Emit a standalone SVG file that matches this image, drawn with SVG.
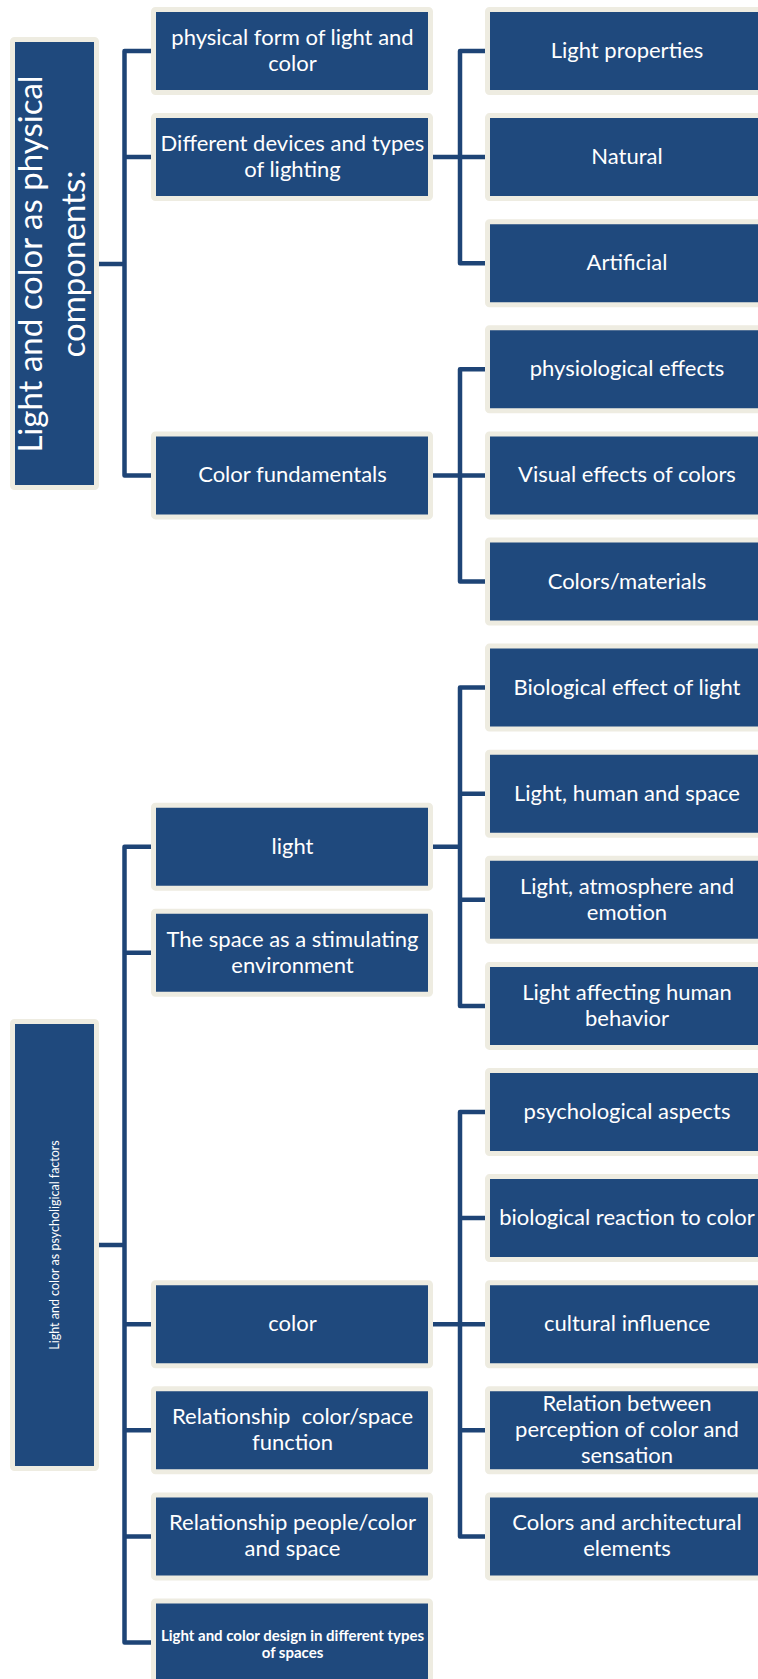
<svg xmlns="http://www.w3.org/2000/svg" width="758" height="1679" viewBox="0 0 758 1679">
<style>
.b{fill:#1F497D;stroke:#EEECE1;stroke-width:5;}
.t{font-family:Lato,"Liberation Sans",sans-serif;font-size:22px;fill:#FFFFFF;text-anchor:middle;}
.c{fill:none;stroke:#1E4476;stroke-width:4.5;stroke-linejoin:round;}
</style>
<rect width="758" height="1679" fill="#FFFFFF"/>
<g id="connectors">
<path class="c" d="M151 51 H124.5 V475.4 H151 M124.5 157.1 H151 M99 264 H124.5"/>
<path class="c" d="M433 157.1 H460 M485 51 H460 V263.2 H485 M460 157.1 H485"/>
<path class="c" d="M433 475.4 H460 M485 369.3 H460 V581.5 H485 M460 475.4 H485"/>
<path class="c" d="M151 846.65 H124.5 V1642.5 H151 M124.5 952.75 H151 M124.5 1324.2 H151 M124.5 1430.3 H151 M124.5 1536.4 H151 M99 1245 H124.5"/>
<path class="c" d="M433 846.65 H460 M485 687.6 H460 V1005.9 H485 M460 793.7 H485 M460 899.8 H485"/>
<path class="c" d="M433 1324.2 H460 M485 1112 H460 V1536.4 H485 M460 1218.1 H485 M460 1324.2 H485 M460 1430.3 H485"/>
</g>
<g id="root1"><rect class="b" x="12.5" y="39.5" width="84" height="448" rx="2"/>
<text class="t" style="font-size:33px" transform="translate(42,264) rotate(-90)">Light and color as physical</text>
<text class="t" style="font-size:33px" transform="translate(85,264) rotate(-90)">components:</text></g>
<g id="root2"><rect class="b" x="12.5" y="1021.5" width="84" height="447" rx="2"/>
<text class="t" style="font-size:12.5px" transform="translate(58.5,1245) rotate(-90)">Light and color as psycholigical factors</text></g>
<g id="m0"><rect class="b" x="153.5" y="9.5" width="277" height="83" rx="2"/><text class="t" x="292.5" y="45">physical form of light and</text><text class="t" x="292.5" y="71">color</text></g>
<g id="m1"><rect class="b" x="153.5" y="115.6" width="277" height="83" rx="2"/><text class="t" x="292.5" y="151">Different devices and types</text><text class="t" x="292.5" y="177">of lighting</text></g>
<g id="m4"><rect class="b" x="153.5" y="433.9" width="277" height="83" rx="2"/><text class="t" x="292.5" y="482.4">Color fundamentals</text></g>
<g id="m_light"><rect class="b" x="153.5" y="805.15" width="277" height="83" rx="2"/><text class="t" x="292.5" y="853.65">light</text></g>
<g id="m_space"><rect class="b" x="153.5" y="911.25" width="277" height="83" rx="2"/><text class="t" x="292.5" y="946.75">The space as a stimulating</text><text class="t" x="292.5" y="972.75">environment</text></g>
<g id="m_color"><rect class="b" x="153.5" y="1282.7" width="277" height="83" rx="2"/><text class="t" x="292.5" y="1331.2">color</text></g>
<g id="m_rel1"><rect class="b" x="153.5" y="1388.8" width="277" height="83" rx="2"/><text class="t" x="292.5" y="1424.3" xml:space="preserve">Relationship  color/space</text><text class="t" x="292.5" y="1450.3">function</text></g>
<g id="m_rel2"><rect class="b" x="153.5" y="1494.9" width="277" height="83" rx="2"/><text class="t" x="292.5" y="1530.4">Relationship people/color</text><text class="t" x="292.5" y="1556.4">and space</text></g>
<g id="m_design"><rect class="b" x="153.5" y="1601" width="277" height="83" rx="2"/><text class="t" style="font-size:15px;font-weight:bold" x="292.5" y="1640.5">Light and color design in different types</text><text class="t" style="font-size:15px;font-weight:bold" x="292.5" y="1657.5">of spaces</text></g>
<g id="r0"><rect class="b" x="487.5" y="9.5" width="290" height="83" rx="2"/><text class="t" x="627" y="58">Light properties</text></g>
<g id="r1"><rect class="b" x="487.5" y="115.6" width="290" height="83" rx="2"/><text class="t" x="627" y="164.1">Natural</text></g>
<g id="r2"><rect class="b" x="487.5" y="221.7" width="290" height="83" rx="2"/><text class="t" x="627" y="270.2">Artificial</text></g>
<g id="r3"><rect class="b" x="487.5" y="327.8" width="290" height="83" rx="2"/><text class="t" x="627" y="376.3">physiological effects</text></g>
<g id="r4"><rect class="b" x="487.5" y="433.9" width="290" height="83" rx="2"/><text class="t" x="627" y="482.4">Visual effects of colors</text></g>
<g id="r5"><rect class="b" x="487.5" y="540" width="290" height="83" rx="2"/><text class="t" x="627" y="588.5">Colors/materials</text></g>
<g id="r6"><rect class="b" x="487.5" y="646.1" width="290" height="83" rx="2"/><text class="t" x="627" y="694.6">Biological effect of light</text></g>
<g id="r7"><rect class="b" x="487.5" y="752.2" width="290" height="83" rx="2"/><text class="t" x="627" y="800.7">Light, human and space</text></g>
<g id="r8"><rect class="b" x="487.5" y="858.3" width="290" height="83" rx="2"/><text class="t" x="627" y="893.8">Light, atmosphere and</text><text class="t" x="627" y="919.8">emotion</text></g>
<g id="r9"><rect class="b" x="487.5" y="964.4" width="290" height="83" rx="2"/><text class="t" x="627" y="999.9">Light affecting human</text><text class="t" x="627" y="1025.9">behavior</text></g>
<g id="r10"><rect class="b" x="487.5" y="1070.5" width="290" height="83" rx="2"/><text class="t" x="627" y="1119">psychological aspects</text></g>
<g id="r11"><rect class="b" x="487.5" y="1176.6" width="290" height="83" rx="2"/><text class="t" x="627" y="1225.1">biological reaction to color</text></g>
<g id="r12"><rect class="b" x="487.5" y="1282.7" width="290" height="83" rx="2"/><text class="t" x="627" y="1331.2">cultural influence</text></g>
<g id="r13"><rect class="b" x="487.5" y="1388.8" width="290" height="83" rx="2"/><text class="t" x="627" y="1411.3">Relation between</text><text class="t" x="627" y="1437.3">perception of color and</text><text class="t" x="627" y="1463.3">sensation</text></g>
<g id="r14"><rect class="b" x="487.5" y="1494.9" width="290" height="83" rx="2"/><text class="t" x="627" y="1530.4">Colors and architectural</text><text class="t" x="627" y="1556.4">elements</text></g>
</svg>
